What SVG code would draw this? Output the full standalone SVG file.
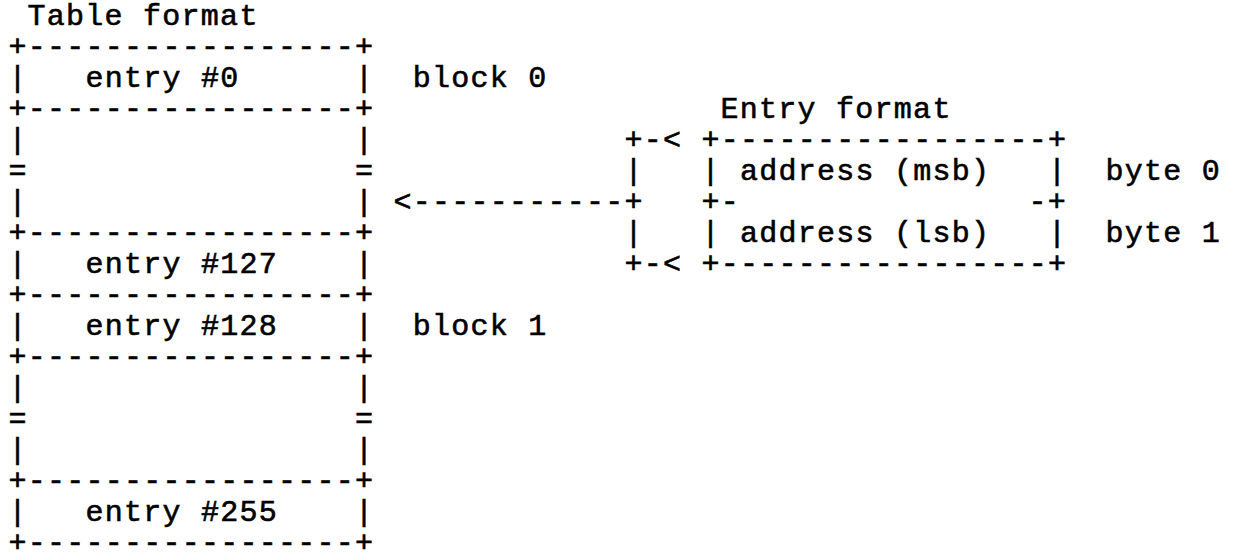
<svg xmlns="http://www.w3.org/2000/svg" width="1236" height="556" viewBox="0 0 1236 556">
<style>
text{font-family:"Liberation Mono","Courier New",monospace;font-size:30px;letter-spacing:1.25px;fill:#000;stroke:#000;stroke-width:0.6px;}
</style>
<rect width="1236" height="556" fill="#fff" stroke="none"/>
<g id="table">
<text x="27.6" y="25">Table format</text>
<text x="8.4" y="56">+-----------------+</text>
<text x="8.4" y="87">|</text><text x="85.4" y="87">entry #0</text><text x="354.9" y="87">|</text>
<text x="8.4" y="118">+-----------------+</text>
<text x="8.4" y="149">|</text><text x="354.9" y="149">|</text>
<text x="8.4" y="180">=</text><text x="354.9" y="180">=</text>
<text x="8.4" y="211">|</text><text x="354.9" y="211">|</text>
<text x="8.4" y="242">+-----------------+</text>
<text x="8.4" y="273">|</text><text x="85.4" y="273">entry #127</text><text x="354.9" y="273">|</text>
<text x="8.4" y="304">+-----------------+</text>
<text x="8.4" y="335">|</text><text x="85.4" y="335">entry #128</text><text x="354.9" y="335">|</text>
<text x="8.4" y="366">+-----------------+</text>
<text x="8.4" y="397">|</text><text x="354.9" y="397">|</text>
<text x="8.4" y="428">=</text><text x="354.9" y="428">=</text>
<text x="8.4" y="459">|</text><text x="354.9" y="459">|</text>
<text x="8.4" y="490">+-----------------+</text>
<text x="8.4" y="521">|</text><text x="85.4" y="521">entry #255</text><text x="354.9" y="521">|</text>
<text x="8.4" y="552">+-----------------+</text>
</g>
<g id="block-labels">
<text x="412.7" y="87">block 0</text>
<text x="412.7" y="335">block 1</text>
</g>
<g id="entry-format">
<text x="720.6" y="118">Entry format</text>
<text x="701.4" y="149">+-----------------+</text>
<text x="701.4" y="180">|</text><text x="739.9" y="180">address (msb)</text><text x="1047.9" y="180">|</text>
<text x="701.4" y="211">+-</text><text x="1028.6" y="211">-+</text>
<text x="701.4" y="242">|</text><text x="739.9" y="242">address (lsb)</text><text x="1047.9" y="242">|</text>
<text x="701.4" y="273">+-----------------+</text>
<text x="1105.6" y="180">byte 0</text>
<text x="1105.6" y="242">byte 1</text>
</g>
<g id="connectors">
<text x="624.4" y="149">+-&lt;</text>
<text x="624.4" y="180">|</text>
<text x="393.4" y="211">&lt;-----------+</text>
<text x="624.4" y="242">|</text>
<text x="624.4" y="273">+-&lt;</text>
</g>
</svg>
